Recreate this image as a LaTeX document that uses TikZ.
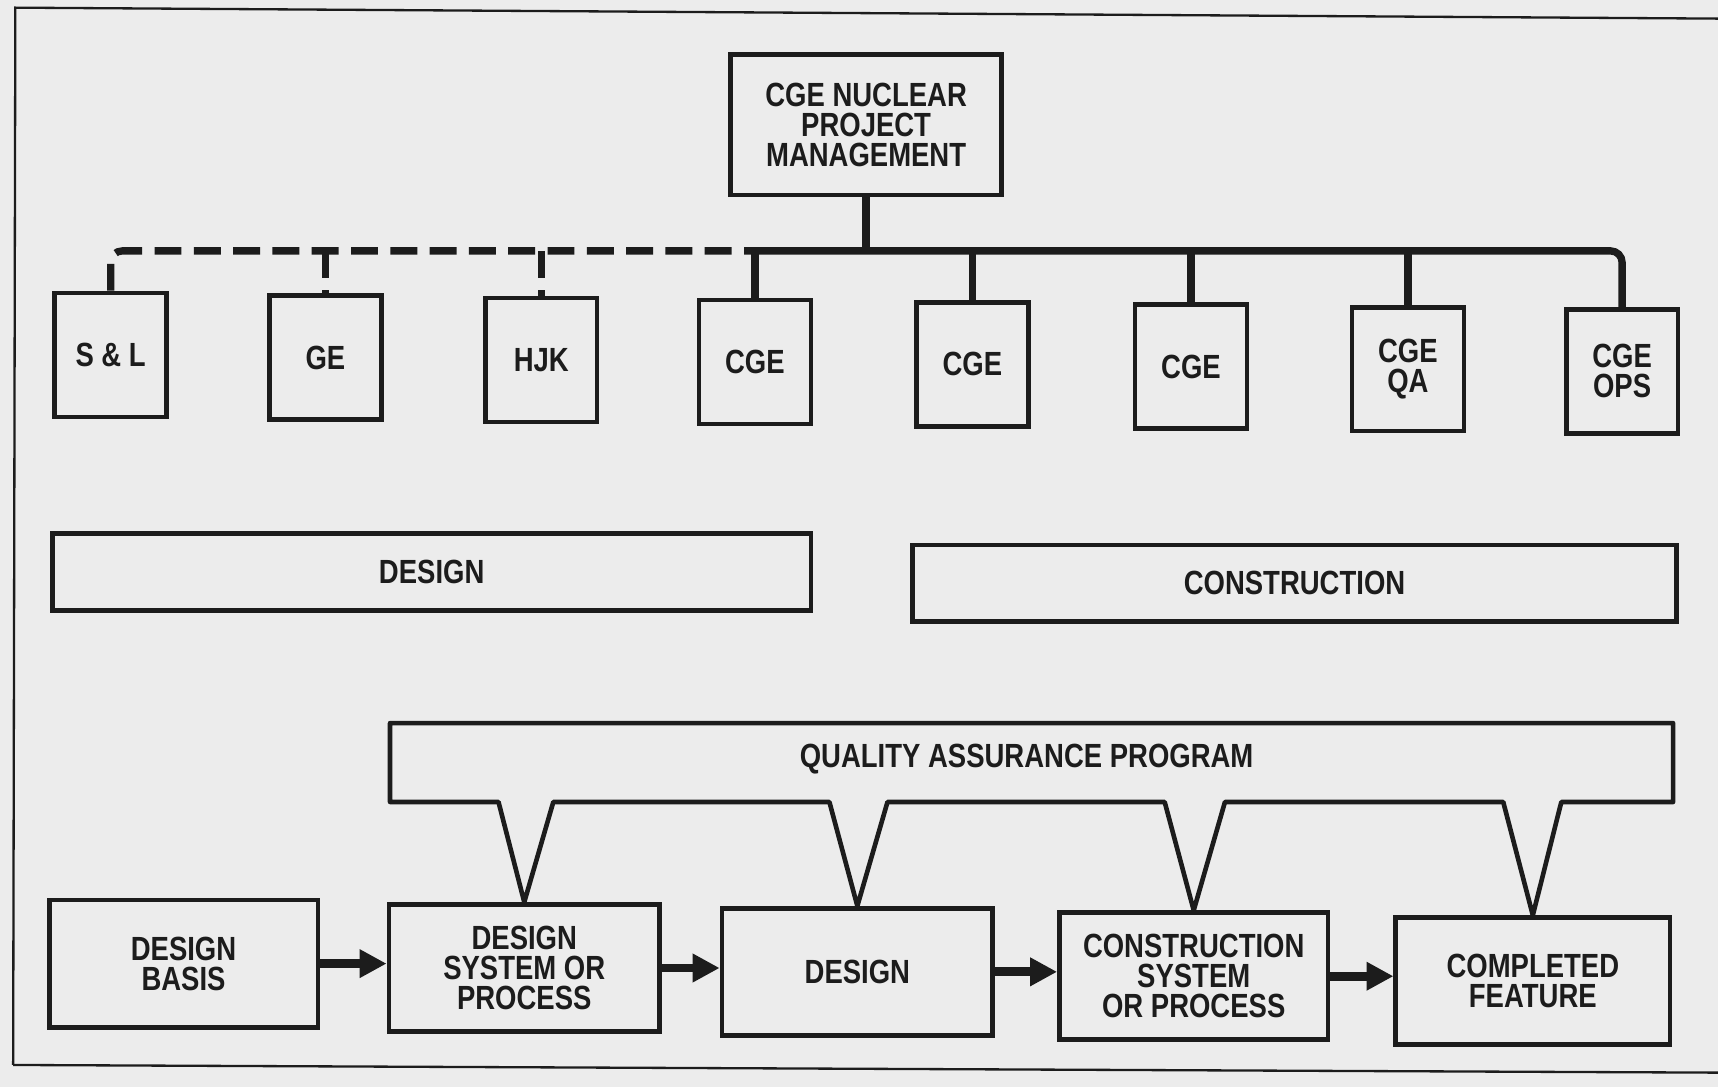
\documentclass[tikz,border=0pt]{standalone}
\usepackage{fontspec}
\setmainfont{Liberation Sans}[FakeStretch=0.82]
\usetikzlibrary{arrows.meta}
\definecolor{ink}{RGB}{28,28,28}
\definecolor{paper}{RGB}{236,236,236}
\begin{document}
\begin{tikzpicture}[x=0.01cm,y=-0.01cm,
  every node/.style={font=\bfseries\fontsize{8.7pt}{7.8pt}\selectfont, text=ink, align=center},
  box/.style={draw=ink, line width=1.2pt, inner sep=0pt},
  sbox/.style={box, minimum width=1.02cm, minimum height=1.13cm},
  bbox/.style={box, minimum height=1.16cm},
  bar/.style={box, minimum height=0.70cm},
  bus/.style={draw=ink, line width=1.9pt},
  dbus/.style={draw=ink, line width=1.9pt, dash pattern=on 7pt off 3.2pt},
  arr/.style={draw=ink, line width=2.3pt, -{Triangle[length=7pt,width=7pt]}},
  frame/.style={draw=ink, line width=0.6pt}
]
\fill[paper] (0,0) rectangle (1568,992);
\useasboundingbox (0,0) rectangle (1568,992);
% outer frame
\coordinate (f1) at (14,7);
\coordinate (f2) at (1568,17);
\coordinate (f3) at (12,972);
\coordinate (f4) at (1568,979);
\draw[frame] (f2) -- (f1) -- (f3);
\draw[frame] (f3) -- (f4);

% top box
\node[box, minimum width=2.47cm, minimum height=1.28cm] (top) at (790.5,114) {CGE NUCLEAR\\PROJECT\\MANAGEMENT};

% organisation boxes
\node[sbox] (sl)  at (101,324)    {S \& L};
\node[sbox] (ge)  at (297,326.5)  {GE};
\node[sbox] (hjk) at (494,328.5)  {HJK};
\node[sbox] (c1)  at (689,330.5)  {CGE};
\node[sbox] (c2)  at (887.5,332.5) {CGE};
\node[sbox] (c3)  at (1087,334.5) {CGE};
\node[sbox] (cqa) at (1285,337)   {CGE\\QA};
\node[sbox] (ops) at (1480.5,339) {CGE\\OPS};

\coordinate (bus) at (0,229);
\draw[bus] (top.south) -- (top.south |- bus);
\draw[bus, rounded corners=3pt] (c1.north |- bus) -- (ops.north |- bus) -- (ops.north);
\foreach \n in {c1,c2,c3,cqa} \draw[bus] (\n.north |- bus) -- (\n.north);
\draw[dbus, rounded corners=3pt] (sl.north) -- (sl.north |- bus) -- (c1.north |- bus);
\foreach \n in {ge,hjk} \draw[dbus] (\n.north |- bus) -- (\n.north);

% bars
\node[bar, minimum width=6.92cm] (dbar) at (394,522) {DESIGN};
\node[bar, minimum width=6.97cm] (cbar) at (1181.5,532.5) {CONSTRUCTION};

% bottom process boxes
\node[bbox, minimum width=2.45cm] (db)  at (167.5,879.5) {DESIGN\\BASIS};
\node[bbox, minimum width=2.47cm] (dsp) at (478.5,883.5) {DESIGN\\SYSTEM OR\\PROCESS};
\node[bbox, minimum width=2.47cm] (des) at (782.5,887)   {DESIGN};
\node[bbox, minimum width=2.45cm] (csp) at (1089.5,891)  {CONSTRUCTION\\SYSTEM\\OR PROCESS};
\node[bbox, minimum width=2.50cm] (cf)  at (1399,895.5)  {COMPLETED\\FEATURE};

% quality assurance program
\draw[box, line join=round] (356,660) -- (1527,660) -- (1527,732) -- (1425,732) -- (cf.north)
  -- (1372,732) -- (1118,732) -- (csp.north) -- (1063,732) -- (810,732) -- (des.north)
  -- (757,732) -- (505,732) -- (dsp.north) -- (455,732) -- (356,732) -- cycle;
\node (qa) at (937,693) {QUALITY ASSURANCE PROGRAM};

% arrows
\draw[arr] (db.east) -- (db.east -| dsp.west);
\draw[arr] (dsp.east) -- (dsp.east -| des.west);
\draw[arr] (des.east) -- (des.east -| csp.west);
\draw[arr] (csp.east) -- (csp.east -| cf.west);
\end{tikzpicture}
\end{document}
